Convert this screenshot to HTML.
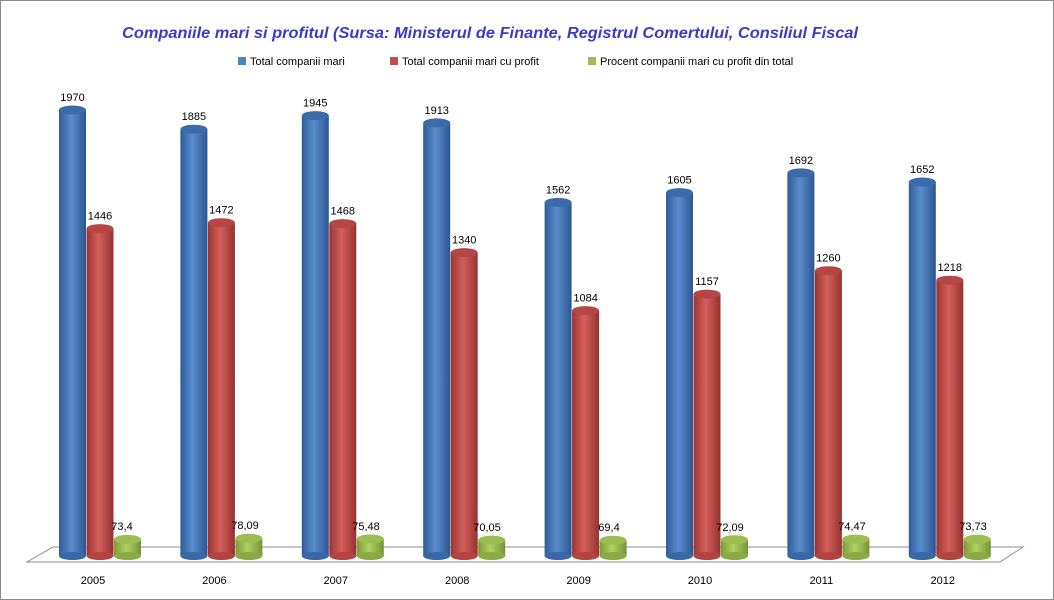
<!DOCTYPE html>
<html><head><meta charset="utf-8"><style>
html,body{margin:0;padding:0;background:#fff}
svg{display:block}
text{font-family:"Liberation Sans",sans-serif}
</style></head><body>
<svg width="1054" height="600" xmlns="http://www.w3.org/2000/svg">
<defs>
<linearGradient id="gb" x1="0" x2="1" y1="0" y2="0"><stop offset="0" stop-color="#2f5c97"/><stop offset="0.45" stop-color="#5a8dce"/><stop offset="1" stop-color="#2c5690"/></linearGradient>
<linearGradient id="gr" x1="0" x2="1" y1="0" y2="0"><stop offset="0" stop-color="#9c3431"/><stop offset="0.45" stop-color="#d5605c"/><stop offset="1" stop-color="#963230"/></linearGradient>
<linearGradient id="gg" x1="0" x2="1" y1="0" y2="0"><stop offset="0" stop-color="#7a9a37"/><stop offset="0.45" stop-color="#b2d063"/><stop offset="1" stop-color="#75943a"/></linearGradient>
<g id="cb"></g>
</defs>
<rect x="0.5" y="0.5" width="1053" height="599" fill="#fff" stroke="#8a8a8a"/>
<text x="490" y="38" text-anchor="middle" font-size="16" font-weight="bold" font-style="italic" fill="#3b3bc4" textLength="736" lengthAdjust="spacingAndGlyphs">Companiile mari si profitul (Sursa: Ministerul de Finante, Registrul Comertului, Consiliul Fiscal</text>
<g font-size="11" fill="#000">
<rect x="238" y="57" width="8" height="8" fill="#4f81bd"/><text x="250" y="65">Total companii mari</text>
<rect x="390" y="57" width="8" height="8" fill="#c0504d"/><text x="402" y="65">Total companii mari cu profit</text>
<rect x="588" y="57" width="8" height="8" fill="#9bbb59"/><text x="600" y="65">Procent companii mari cu profit din total</text>
</g>
<polygon points="53,547 1023,547 1000,562 27,562" fill="#fff" stroke="#8c8c8c"/>
<g id="bars" font-size="11" text-anchor="middle" fill="#000">
<!-- 2005 -->
<rect x="59" y="110" width="27" height="446" fill="url(#gb)"/><ellipse cx="72.5" cy="556" rx="13.5" ry="4" fill="#3a68a6"/><ellipse cx="72.5" cy="110" rx="13.5" ry="4.5" fill="#3d6aa8"/><text x="72.5" y="101">1970</text>
<rect x="86.5" y="228.6" width="27" height="327.4" fill="url(#gr)"/><ellipse cx="100" cy="556" rx="13.5" ry="4" fill="#b24542"/><ellipse cx="100" cy="228.6" rx="13.5" ry="4.5" fill="#b54643"/><text x="100" y="219.6">1446</text>
<rect x="114" y="539.4" width="27" height="16.6" fill="url(#gg)"/><ellipse cx="127.5" cy="556" rx="13.5" ry="4" fill="#8aaa45"/><ellipse cx="127.5" cy="539.4" rx="13.5" ry="4.5" fill="#9cbd52"/><text x="122" y="530">73,4</text>
<!-- 2006 -->
<rect x="180.4" y="129.2" width="27" height="426.8" fill="url(#gb)"/><ellipse cx="193.9" cy="556" rx="13.5" ry="4" fill="#3a68a6"/><ellipse cx="193.9" cy="129.2" rx="13.5" ry="4.5" fill="#3d6aa8"/><text x="193.9" y="120.2">1885</text>
<rect x="207.9" y="222.7" width="27" height="333.3" fill="url(#gr)"/><ellipse cx="221.4" cy="556" rx="13.5" ry="4" fill="#b24542"/><ellipse cx="221.4" cy="222.7" rx="13.5" ry="4.5" fill="#b54643"/><text x="221.4" y="213.7">1472</text>
<rect x="235.4" y="538.3" width="27" height="17.7" fill="url(#gg)"/><ellipse cx="248.9" cy="556" rx="13.5" ry="4" fill="#8aaa45"/><ellipse cx="248.9" cy="538.3" rx="13.5" ry="4.5" fill="#9cbd52"/><text x="245" y="529">78,09</text>
<!-- 2007 -->
<rect x="301.8" y="115.6" width="27" height="440.4" fill="url(#gb)"/><ellipse cx="315.3" cy="556" rx="13.5" ry="4" fill="#3a68a6"/><ellipse cx="315.3" cy="115.6" rx="13.5" ry="4.5" fill="#3d6aa8"/><text x="315.3" y="106.6">1945</text>
<rect x="329.3" y="223.6" width="27" height="332.4" fill="url(#gr)"/><ellipse cx="342.8" cy="556" rx="13.5" ry="4" fill="#b24542"/><ellipse cx="342.8" cy="223.6" rx="13.5" ry="4.5" fill="#b54643"/><text x="342.8" y="214.6">1468</text>
<rect x="356.8" y="538.9" width="27" height="17.1" fill="url(#gg)"/><ellipse cx="370.3" cy="556" rx="13.5" ry="4" fill="#8aaa45"/><ellipse cx="370.3" cy="538.9" rx="13.5" ry="4.5" fill="#9cbd52"/><text x="366" y="530">75,48</text>
<!-- 2008 -->
<rect x="423.2" y="122.9" width="27" height="433.1" fill="url(#gb)"/><ellipse cx="436.7" cy="556" rx="13.5" ry="4" fill="#3a68a6"/><ellipse cx="436.7" cy="122.9" rx="13.5" ry="4.5" fill="#3d6aa8"/><text x="436.7" y="113.9">1913</text>
<rect x="450.7" y="252.6" width="27" height="303.4" fill="url(#gr)"/><ellipse cx="464.2" cy="556" rx="13.5" ry="4" fill="#b24542"/><ellipse cx="464.2" cy="252.6" rx="13.5" ry="4.5" fill="#b54643"/><text x="464.2" y="243.6">1340</text>
<rect x="478.2" y="540.1" width="27" height="15.9" fill="url(#gg)"/><ellipse cx="491.7" cy="556" rx="13.5" ry="4" fill="#8aaa45"/><ellipse cx="491.7" cy="540.1" rx="13.5" ry="4.5" fill="#9cbd52"/><text x="487" y="531">70,05</text>
<!-- 2009 -->
<rect x="544.6" y="202.4" width="27" height="353.6" fill="url(#gb)"/><ellipse cx="558.1" cy="556" rx="13.5" ry="4" fill="#3a68a6"/><ellipse cx="558.1" cy="202.4" rx="13.5" ry="4.5" fill="#3d6aa8"/><text x="558.1" y="193.4">1562</text>
<rect x="572.1" y="310.6" width="27" height="245.4" fill="url(#gr)"/><ellipse cx="585.6" cy="556" rx="13.5" ry="4" fill="#b24542"/><ellipse cx="585.6" cy="310.6" rx="13.5" ry="4.5" fill="#b54643"/><text x="585.6" y="301.6">1084</text>
<rect x="599.6" y="540.3" width="27" height="15.7" fill="url(#gg)"/><ellipse cx="613.1" cy="556" rx="13.5" ry="4" fill="#8aaa45"/><ellipse cx="613.1" cy="540.3" rx="13.5" ry="4.5" fill="#9cbd52"/><text x="609" y="531">69,4</text>
<!-- 2010 -->
<rect x="666" y="192.6" width="27" height="363.4" fill="url(#gb)"/><ellipse cx="679.5" cy="556" rx="13.5" ry="4" fill="#3a68a6"/><ellipse cx="679.5" cy="192.6" rx="13.5" ry="4.5" fill="#3d6aa8"/><text x="679.5" y="183.6">1605</text>
<rect x="693.5" y="294.1" width="27" height="261.9" fill="url(#gr)"/><ellipse cx="707" cy="556" rx="13.5" ry="4" fill="#b24542"/><ellipse cx="707" cy="294.1" rx="13.5" ry="4.5" fill="#b54643"/><text x="707" y="285.1">1157</text>
<rect x="721" y="539.7" width="27" height="16.3" fill="url(#gg)"/><ellipse cx="734.5" cy="556" rx="13.5" ry="4" fill="#8aaa45"/><ellipse cx="734.5" cy="539.7" rx="13.5" ry="4.5" fill="#9cbd52"/><text x="730" y="531">72,09</text>
<!-- 2011 -->
<rect x="787.4" y="172.9" width="27" height="383.1" fill="url(#gb)"/><ellipse cx="800.9" cy="556" rx="13.5" ry="4" fill="#3a68a6"/><ellipse cx="800.9" cy="172.9" rx="13.5" ry="4.5" fill="#3d6aa8"/><text x="800.9" y="163.9">1692</text>
<rect x="814.9" y="270.7" width="27" height="285.3" fill="url(#gr)"/><ellipse cx="828.4" cy="556" rx="13.5" ry="4" fill="#b24542"/><ellipse cx="828.4" cy="270.7" rx="13.5" ry="4.5" fill="#b54643"/><text x="828.4" y="261.7">1260</text>
<rect x="842.4" y="539.1" width="27" height="16.9" fill="url(#gg)"/><ellipse cx="855.9" cy="556" rx="13.5" ry="4" fill="#8aaa45"/><ellipse cx="855.9" cy="539.1" rx="13.5" ry="4.5" fill="#9cbd52"/><text x="852" y="530">74,47</text>
<!-- 2012 -->
<rect x="908.8" y="182" width="27" height="374" fill="url(#gb)"/><ellipse cx="922.3" cy="556" rx="13.5" ry="4" fill="#3a68a6"/><ellipse cx="922.3" cy="182" rx="13.5" ry="4.5" fill="#3d6aa8"/><text x="922.3" y="173">1652</text>
<rect x="936.3" y="280.2" width="27" height="275.8" fill="url(#gr)"/><ellipse cx="949.8" cy="556" rx="13.5" ry="4" fill="#b24542"/><ellipse cx="949.8" cy="280.2" rx="13.5" ry="4.5" fill="#b54643"/><text x="949.8" y="271.2">1218</text>
<rect x="963.8" y="539.3" width="27" height="16.7" fill="url(#gg)"/><ellipse cx="977.3" cy="556" rx="13.5" ry="4" fill="#8aaa45"/><ellipse cx="977.3" cy="539.3" rx="13.5" ry="4.5" fill="#9cbd52"/><text x="973" y="530">73,73</text>
</g>
<g font-size="11" text-anchor="middle" fill="#000">
<text x="93" y="584">2005</text><text x="214.4" y="584">2006</text><text x="335.8" y="584">2007</text><text x="457.2" y="584">2008</text>
<text x="578.6" y="584">2009</text><text x="700" y="584">2010</text><text x="821.4" y="584">2011</text><text x="942.8" y="584">2012</text>
</g>
</svg>
</body></html>
